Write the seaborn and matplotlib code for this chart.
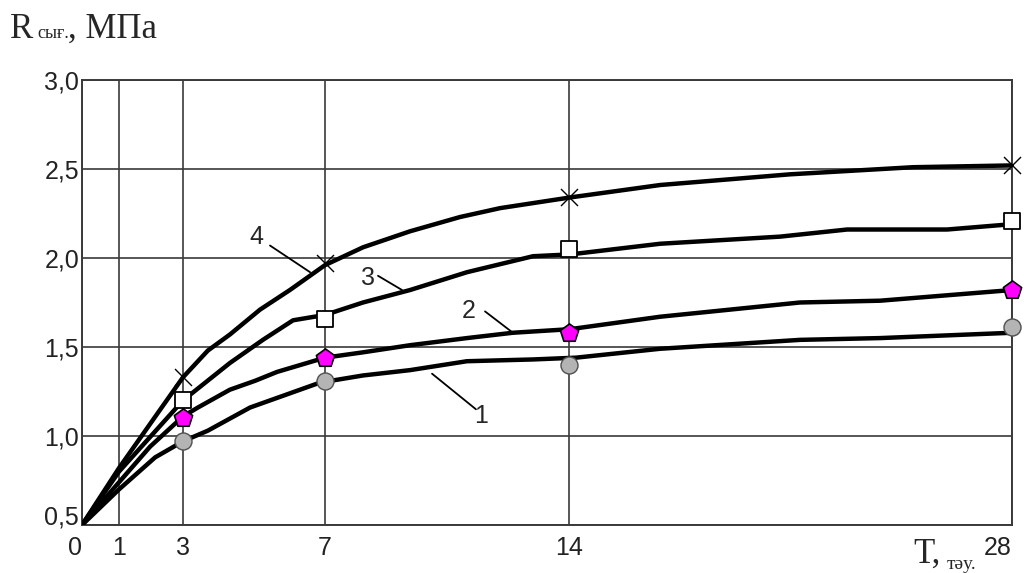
import numpy as np
import pandas as pd
import matplotlib
matplotlib.use('Agg')
import matplotlib.pyplot as plt
import seaborn as sns

# curve traces (day, MPa)
days_1 = [0, 1, 2.13, 3, 3.70, 4.89, 6.86, 8.09, 9.44, 11.07, 12.97, 14.22, 16.88, 21.30, 23.83, 28]
mpa_1 = [0.5, 0.70, 0.88, 0.97, 1.03, 1.16, 1.30, 1.34, 1.37, 1.42, 1.43, 1.44, 1.49, 1.54, 1.55, 1.58]

days_2 = [0, 1, 1.97, 3, 3.42, 4.32, 5.03, 5.65, 7, 8.09, 9.44, 11.07, 12.39, 14.03, 16.88, 21.30, 23.83, 28]
mpa_2 = [0.5, 0.74, 0.94, 1.11, 1.16, 1.26, 1.31, 1.36, 1.44, 1.47, 1.51, 1.55, 1.58, 1.60, 1.67, 1.75, 1.76, 1.82]

days_3 = [0, 1, 3, 4.32, 5.25, 6.10, 7, 8.09, 9.44, 11.07, 12.97, 14.03, 16.88, 20.67, 22.79, 25.95, 28]
mpa_3 = [0.5, 0.80, 1.20, 1.41, 1.54, 1.65, 1.68, 1.75, 1.82, 1.92, 2.01, 2.02, 2.08, 2.12, 2.16, 2.16, 2.19]

days_4 = [0, 1, 3, 3.70, 4.32, 5.17, 6.01, 7, 8.09, 9.44, 10.87, 12.02, 14.03, 16.88, 20.98, 24.87, 28]
mpa_4 = [0.5, 0.82, 1.33, 1.48, 1.57, 1.71, 1.82, 1.96, 2.06, 2.15, 2.23, 2.28, 2.34, 2.41, 2.47, 2.51, 2.52]

# measured points
test_days = [3, 7, 14, 28]
pts_1 = [0.97, 1.31, 1.40, 1.61]
pts_2 = [1.10, 1.44, 1.58, 1.82]
pts_3 = [1.20, 1.66, 2.05, 2.21]
pts_4 = [1.33, 1.97, 2.34, 2.52]

x_ticks = [0, 1, 3, 7, 14, 28]
x_labels = ['0', '1', '3', '7', '14', '28']
y_ticks = [0.5, 1.0, 1.5, 2.0, 2.5, 3.0]
y_labels = ['0,5', '1,0', '1,5', '2,0', '2,5', '3,0']

sns.set_theme(style='white')
plt.rcParams['font.family'] = ['Liberation Sans', 'DejaVu Sans']
serif = ['Liberation Serif', 'DejaVu Serif']

fig = plt.figure(figsize=(10.24, 5.73), dpi=100)
ax = fig.add_axes([0.0801, 0.0838, 0.9082, 0.7766])

# the drawn time axis is not quite uniform; map ticks onto their drawn places
tick_px = [0, 37, 101, 243, 487, 930]
ax.set_xscale('function', functions=(lambda x: np.interp(x, x_ticks, tick_px),
                                     lambda p: np.interp(p, tick_px, x_ticks)))

curves = pd.concat([
    pd.DataFrame({'day': d, 'mpa': m, 'curve': c})
    for d, m, c in [(days_1, mpa_1, '1'), (days_2, mpa_2, '2'),
                    (days_3, mpa_3, '3'), (days_4, mpa_4, '4')]
])
sns.lineplot(data=curves, x='day', y='mpa', hue='curve', units='curve',
             estimator=None, sort=False, palette=['black'] * 4,
             linewidth=3.2, legend=False, ax=ax, zorder=3)

sns.scatterplot(x=test_days, y=pts_1, marker='o', s=150, color='#b4b4b4',
                edgecolor='#505050', linewidth=1.0, ax=ax, zorder=5, clip_on=False)
sns.scatterplot(x=test_days, y=pts_2, marker='p', s=190, color='#ff00ff',
                edgecolor='black', linewidth=1.2, ax=ax, zorder=5, clip_on=False)
sns.scatterplot(x=test_days, y=pts_3, marker='s', s=140, color='white',
                edgecolor='black', linewidth=1.3, ax=ax, zorder=5, clip_on=False)
sns.scatterplot(x=test_days, y=pts_4, marker='x', s=150, color='black',
                linewidth=1.0, ax=ax, zorder=5, clip_on=False)

ax.set_xlim(0, 28)
ax.set_ylim(0.5, 3.0)
ax.set_xticks(x_ticks)
ax.set_xticklabels(x_labels)
ax.set_yticks(y_ticks)
ax.set_yticklabels(y_labels)
ax.minorticks_off()
ax.tick_params(length=0, labelsize=18, colors='#222222')
ax.tick_params(axis='x', pad=8)
ax.tick_params(axis='y', pad=2)
xl = ax.get_xticklabels()
xl[0].set_ha('right')
xl[-1].set_ha('right')
ax.get_yticklabels()[0].set_va('baseline')
ax.set_xlabel('')
ax.set_ylabel('')

ax.grid(True, color='#3a3a3a', linewidth=1.2)
ax.set_axisbelow(True)
for sp in ax.spines.values():
    sp.set_visible(True)
    sp.set_color('#3a3a3a')
    sp.set_linewidth(1.4)

# curve numbers with leader lines
labels = [('4', (5.08, 2.12), (5.45, 2.07), (6.58, 1.92)),
          ('3', (8.23, 1.89), (8.52, 1.90), (9.21, 1.82)),
          ('2', (11.13, 1.70), (11.59, 1.70), (12.39, 1.58)),
          ('1', (11.47, 1.11), (11.33, 1.15), (10.07, 1.35))]
for txt, tpos, l0, l1 in labels:
    ax.text(tpos[0], tpos[1], txt, fontsize=18, ha='center', va='center', zorder=6)
    ax.plot([l0[0], l1[0]], [l0[1], l1[1]], color='black', lw=1.3, zorder=6)

# axis titles
fig.text(10 / 1024, 1 - 38 / 573, 'R', family=serif, fontsize=25, va='baseline')
fig.text(37 / 1024, 1 - 38 / 573, 'сығ.', family=serif, fontsize=13, va='baseline')
fig.text(68 / 1024, 1 - 38 / 573, ', МПа', family=serif, fontsize=25, va='baseline')
fig.text(913 / 1024, 1 - 563 / 573, 'T,', family=serif, fontsize=25, va='baseline')
fig.text(947 / 1024, 1 - 569 / 573, 'тәу.', family=serif, fontsize=14, va='baseline')

fig.savefig('out.png', dpi=100)
